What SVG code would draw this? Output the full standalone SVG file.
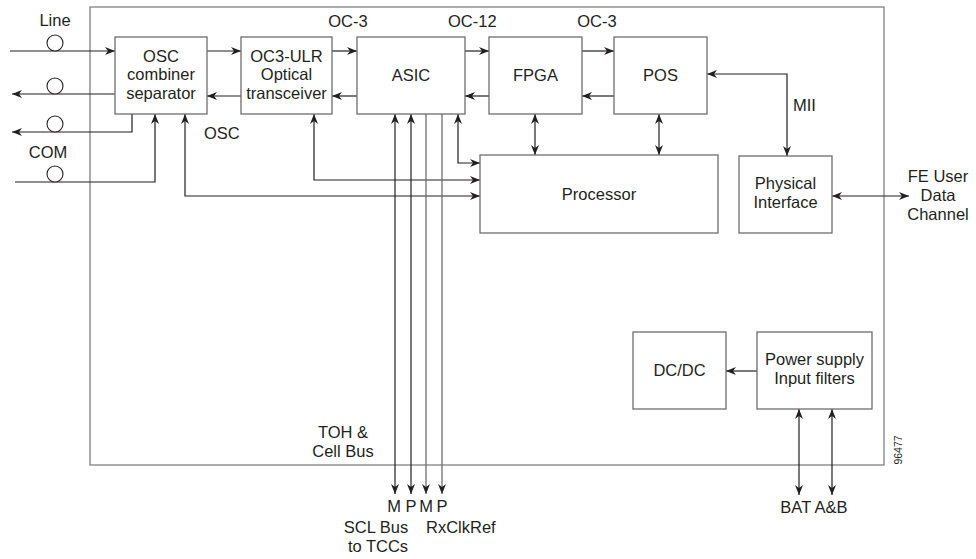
<svg xmlns="http://www.w3.org/2000/svg" width="976" height="559" viewBox="0 0 976 559">
<defs>
<marker id="ah" viewBox="0 0 10 8" refX="10" refY="4" markerWidth="10" markerHeight="8" markerUnits="userSpaceOnUse" orient="auto-start-reverse">
<path d="M0,0 L10,4 L0,8 L3,4 z" fill="#231f20"/>
</marker>
<style>
.box{fill:#fff;stroke:#6d6e71;stroke-width:1.3}
.frame{fill:none;stroke:#808285;stroke-width:1.3}
.ln{fill:none;stroke:#231f20;stroke-width:1.2}
.lg{fill:none;stroke:#6d6e71;stroke-width:1.3}
.a{marker-end:url(#ah)}
.b{marker-start:url(#ah);marker-end:url(#ah)}
text{font-family:"Liberation Sans",Arial,sans-serif;font-size:16.5px;fill:#231f20}
.m{text-anchor:middle}
.sm{font-size:10.5px}
.circ{fill:#fff;stroke:#231f20;stroke-width:1.1}
</style>
</defs>
<rect class="frame" x="90" y="7" width="794" height="458"/>

<g id="connectors">
<!-- external left -->
<line class="ln a" x1="10" y1="51" x2="115" y2="51"/>
<line class="ln a" x1="115" y1="94" x2="12" y2="94"/>
<polyline class="ln a" points="132,114 132,132 12,132"/>
<polyline class="ln a" points="15,182 155,182 155,114"/>
<polyline class="ln b" points="185,114 185,196 480,196"/>
<polyline class="ln b" points="314,114 314,180 480,180"/>
<polyline class="ln b" points="458,114 458,163 480,163"/>
<!-- top chain -->
<line class="ln a" x1="207" y1="51" x2="241" y2="51"/>
<line class="ln a" x1="332" y1="51" x2="357" y2="51"/>
<line class="ln a" x1="465" y1="51" x2="489" y2="51"/>
<line class="ln a" x1="582" y1="51" x2="614" y2="51"/>
<line class="ln a" x1="241" y1="96" x2="207" y2="96"/>
<line class="ln a" x1="357" y1="96" x2="332" y2="96"/>
<line class="ln a" x1="489" y1="96" x2="465" y2="96"/>
<line class="ln a" x1="614" y1="96" x2="582" y2="96"/>
<!-- FPGA/POS to processor -->
<line class="ln b" x1="535" y1="114" x2="535" y2="155"/>
<line class="ln b" x1="659" y1="114" x2="659" y2="155"/>
<!-- POS to Physical -->
<polyline class="ln b" points="707,74 787,74 787,156"/>
<line class="ln b" x1="832" y1="196" x2="909" y2="196"/>
<!-- ASIC buses -->
<line class="ln b" x1="395" y1="114" x2="395" y2="494"/>
<line class="ln b" x1="411" y1="114" x2="411" y2="494"/>
<line class="lg a" x1="426" y1="114" x2="426" y2="494"/>
<line class="lg a" x1="442" y1="114" x2="442" y2="494"/>
<!-- power -->
<line class="ln a" x1="757" y1="371" x2="726" y2="371"/>
<line class="ln b" x1="799" y1="409" x2="799" y2="495"/>
<line class="ln b" x1="832" y1="409" x2="832" y2="495"/>
<!-- circles -->
<circle class="circ" cx="55" cy="43" r="8"/>
<circle class="circ" cx="55" cy="86" r="8"/>
<circle class="circ" cx="55" cy="124" r="8"/>
<circle class="circ" cx="55" cy="174" r="8"/>
</g>

<g id="osc">
<rect class="box" x="115" y="37" width="92" height="77"/>
<text class="m" x="161" y="61.5">OSC</text>
<text class="m" x="161" y="80">combiner</text>
<text class="m" x="161" y="98.5">separator</text>
</g>
<g id="oc3ulr">
<rect class="box" x="241" y="37" width="91" height="77"/>
<text class="m" x="286.5" y="61.5">OC3-ULR</text>
<text class="m" x="286.5" y="80">Optical</text>
<text class="m" x="286.5" y="98.5">transceiver</text>
</g>
<g id="asic">
<rect class="box" x="357" y="37" width="108" height="77"/>
<text class="m" x="411" y="81">ASIC</text>
</g>
<g id="fpga">
<rect class="box" x="489" y="37" width="93" height="77"/>
<text class="m" x="535.5" y="81">FPGA</text>
</g>
<g id="pos">
<rect class="box" x="614" y="37" width="93" height="77"/>
<text class="m" x="660.5" y="81">POS</text>
</g>
<g id="processor">
<rect class="box" x="480" y="155" width="238" height="78"/>
<text class="m" x="599" y="200">Processor</text>
</g>
<g id="physical">
<rect class="box" x="739" y="156" width="93" height="77"/>
<text class="m" x="785.5" y="189">Physical</text>
<text class="m" x="785.5" y="208">Interface</text>
</g>
<g id="dcdc">
<rect class="box" x="633" y="332" width="93" height="77"/>
<text class="m" x="679.5" y="376">DC/DC</text>
</g>
<g id="power">
<rect class="box" x="757" y="332" width="115" height="77"/>
<text class="m" x="814.5" y="365">Power supply</text>
<text class="m" x="814.5" y="384">Input filters</text>
</g>

<g id="labels">
<text class="m" x="55" y="26">Line</text>
<text class="m" x="48" y="158">COM</text>
<text x="204" y="139">OSC</text>
<text class="m" x="348" y="27">OC-3</text>
<text x="448" y="27">OC-12</text>
<text class="m" x="597" y="27">OC-3</text>
<text x="793" y="111">MII</text>
<text class="m" x="938" y="182">FE User</text>
<text class="m" x="938" y="201">Data</text>
<text class="m" x="938" y="220">Channel</text>
<text class="m" x="343" y="438">TOH &amp;</text>
<text class="m" x="343" y="457">Cell Bus</text>
<text class="m" x="394" y="512">M</text>
<text class="m" x="411" y="512">P</text>
<text class="m" x="426" y="512">M</text>
<text class="m" x="442" y="512">P</text>
<text class="m" x="376" y="533">SCL Bus</text>
<text class="m" x="378" y="552">to TCCs</text>
<text x="426" y="533">RxClkRef</text>
<text class="m" x="814" y="513">BAT A&amp;B</text>
<text class="sm m" transform="translate(902,450) rotate(-90)">96477</text>
</g>
</svg>
